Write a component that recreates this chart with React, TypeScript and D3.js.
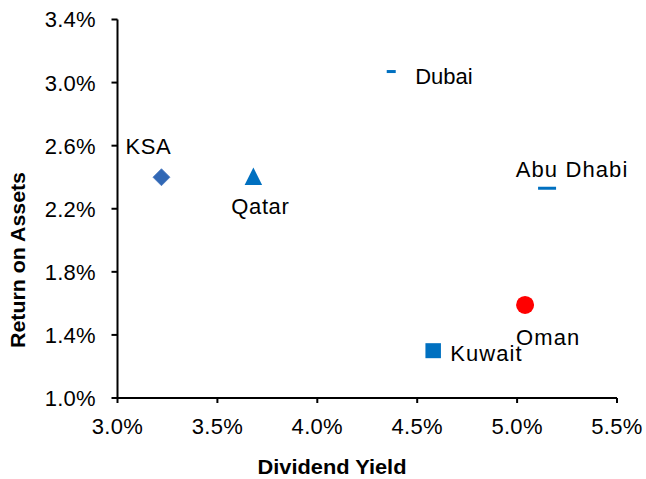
import React from "react";
import * as d3 from "d3";

const countries = ["KSA", "Qatar", "Dubai", "Abu Dhabi", "Oman", "Kuwait"];
const dividendYield = [3.22, 3.68, 4.37, 5.15, 5.04, 4.58];
const returnOnAssets = [2.4, 2.4, 3.07, 2.33, 1.59, 1.3];
const xTicks = [3.0, 3.5, 4.0, 4.5, 5.0, 5.5];
const yTicks = [1.0, 1.4, 1.8, 2.2, 2.6, 3.0, 3.4];

// marker styles and label offsets (presentation only)
const markers = ["diamond", "triangle", "dashSmall", "dashWide", "circle", "square"];
const colors = ["#3168B5", "#0070C0", "#0070C0", "#0070C0", "#FF0000", "#0070C0"];
const labelDx = [-13, 7, 24, 25, -9, 17];
const labelDy = [-23, 37, 12.5, -11.5, 40, 10];
const labelAnchor = ["middle", "middle", "start", "middle", "start", "start"];
const labelSpacing = [0.6, 0.6, 0, 1.1, 1.1, 1.1];

const W = 646;
const H = 479;
const FONT = "'Liberation Sans', Arial, Helvetica, sans-serif";

export default function App() {
  const x = d3.scaleLinear().domain([3.0, 5.5]).range([117.5, 617]);
  const y = d3.scaleLinear().domain([1.0, 3.4]).range([398, 19.5]);
  const fmt = (v: number) => v.toFixed(1) + "%";

  const marker = (kind: string, cx: number, cy: number, color: string, i: number) => {
    switch (kind) {
      case "diamond": {
        const r = 8.5;
        return (
          <path
            key={i}
            d={`M${cx},${cy - r}L${cx + r},${cy}L${cx},${cy + r}L${cx - r},${cy}Z`}
            fill={color}
            stroke="#4F7BC0"
            strokeWidth={0.8}
          />
        );
      }
      case "triangle": {
        const h = 17.5;
        const w = 17.5;
        return (
          <path
            key={i}
            d={`M${cx},${cy - h / 2 - 1}L${cx + w / 2},${cy + h / 2 - 1}L${cx - w / 2},${cy + h / 2 - 1}Z`}
            fill={color}
          />
        );
      }
      case "dashSmall":
        return <rect key={i} x={cx - 4.5} y={cy - 1.5} width={9} height={3} fill={color} />;
      case "dashWide":
        return <rect key={i} x={cx - 9} y={cy - 1.5} width={18} height={3} fill={color} />;
      case "circle":
        return <circle key={i} cx={cx} cy={cy} r={9} fill={color} />;
      case "square":
        return <rect key={i} x={cx - 7.75} y={cy - 7.5} width={15.5} height={15} fill={color} />;
      default:
        return null;
    }
  };

  return (
    <svg
      width={W}
      height={H}
      style={{ position: "absolute", left: 0, top: 0, background: "#fff" }}
      fontFamily={FONT}
    >
      <rect x={0} y={0} width={W} height={H} fill="#fff" />
      {/* axes */}
      <line x1={x(3.0)} x2={x(3.0)} y1={y(3.4)} y2={y(1.0)} stroke="#000" strokeWidth={2} />
      <line x1={x(3.0) - 1} x2={x(5.5)} y1={y(1.0)} y2={y(1.0)} stroke="#000" strokeWidth={2} />
      {yTicks.map((t) => (
        <g key={"y" + t}>
          <line x1={x(3.0) - 6} x2={x(3.0)} y1={y(t)} y2={y(t)} stroke="#000" strokeWidth={2} />
          <text
            x={96}
            y={y(t)}
            dy="0.36em"
            textAnchor="end"
            fontSize={22}
            letterSpacing={0.3}
            fill="#000"
          >
            {fmt(t)}
          </text>
        </g>
      ))}
      {xTicks.map((t) => (
        <g key={"x" + t}>
          <line x1={x(t)} x2={x(t)} y1={y(1.0)} y2={y(1.0) + 5} stroke="#000" strokeWidth={2} />
          <text x={x(t)} y={433.5} textAnchor="middle" fontSize={22} letterSpacing={0.3} fill="#000">
            {fmt(t)}
          </text>
        </g>
      ))}
      <text
        x={332}
        y={474}
        textAnchor="middle"
        fontSize={20}
        fontWeight="bold"
        fill="#000"
        textLength={149}
        lengthAdjust="spacingAndGlyphs"
      >
        Dividend Yield
      </text>
      <text
        transform={`translate(24.5,260) rotate(-90)`}
        textAnchor="middle"
        fontSize={20}
        fontWeight="bold"
        fill="#000"
        textLength={176}
        lengthAdjust="spacingAndGlyphs"
      >
        Return on Assets
      </text>
      {/* points */}
      {countries.map((c, i) =>
        marker(markers[i], x(dividendYield[i]), y(returnOnAssets[i]), colors[i], i)
      )}
      {countries.map((c, i) => (
        <text
          key={"l" + c}
          x={x(dividendYield[i]) + labelDx[i]}
          y={y(returnOnAssets[i]) + labelDy[i]}
          textAnchor={labelAnchor[i] as any}
          fontSize={22}
          letterSpacing={labelSpacing[i]}
          fill="#000"
        >
          {c}
        </text>
      ))}
    </svg>
  );
}
